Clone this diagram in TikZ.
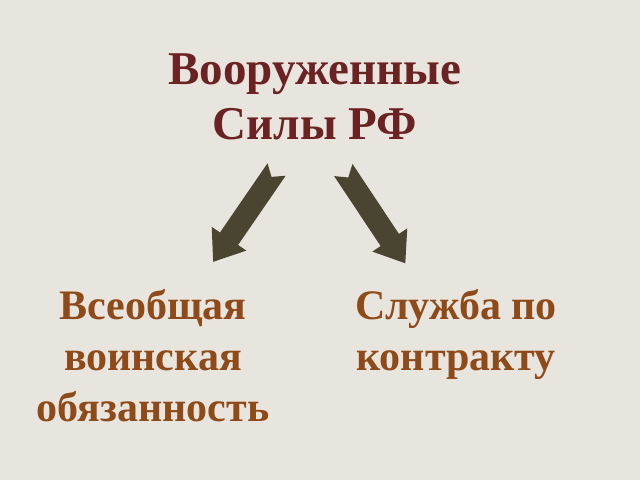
\documentclass[tikz,border=0pt]{standalone}
\usepackage{fontspec}
\setmainfont{Liberation Serif}
\definecolor{bg}{HTML}{E8E5DE}
\definecolor{titlecol}{HTML}{6B2222}
\definecolor{subcol}{HTML}{8E4A18}
\definecolor{arrowcol}{HTML}{4A4530}
\tikzset{
  titletext/.style={font=\fontsize{47}{55}\selectfont\bfseries, text=titlecol, align=center, inner sep=0pt},
  subtext/.style={font=\fontsize{42}{51}\selectfont\bfseries, text=subcol, align=center, inner sep=0pt},
  notcharrow/.pic={\fill[arrowcol] (0,11) -- (84,11) -- (84,21) -- (112,0) -- (84,-21) -- (84,-11) -- (0,-11) -- (9,0) -- cycle;}
}
\begin{document}
\begin{tikzpicture}[x=1pt,y=1pt]
\fill[bg] (0,0) rectangle (640,480);
\useasboundingbox (0,0) rectangle (640,480);
\node[titletext, anchor=base] (title) at (315,340) {Вооруженные\\Силы РФ};
\node[subtext, anchor=base] (duty) at (153,59) {Всеобщая\\воинская\\обязанность};
\node[subtext, anchor=base] (contract) at (456,110) {Служба по\\контракту};
\coordinate (t1) at (276.6,310.5);
\coordinate (t2) at (343.3,310);
\pic[rotate=235.5] at (t1) {notcharrow};
\pic[rotate=303.6] at (t2) {notcharrow};
\end{tikzpicture}
\end{document}
